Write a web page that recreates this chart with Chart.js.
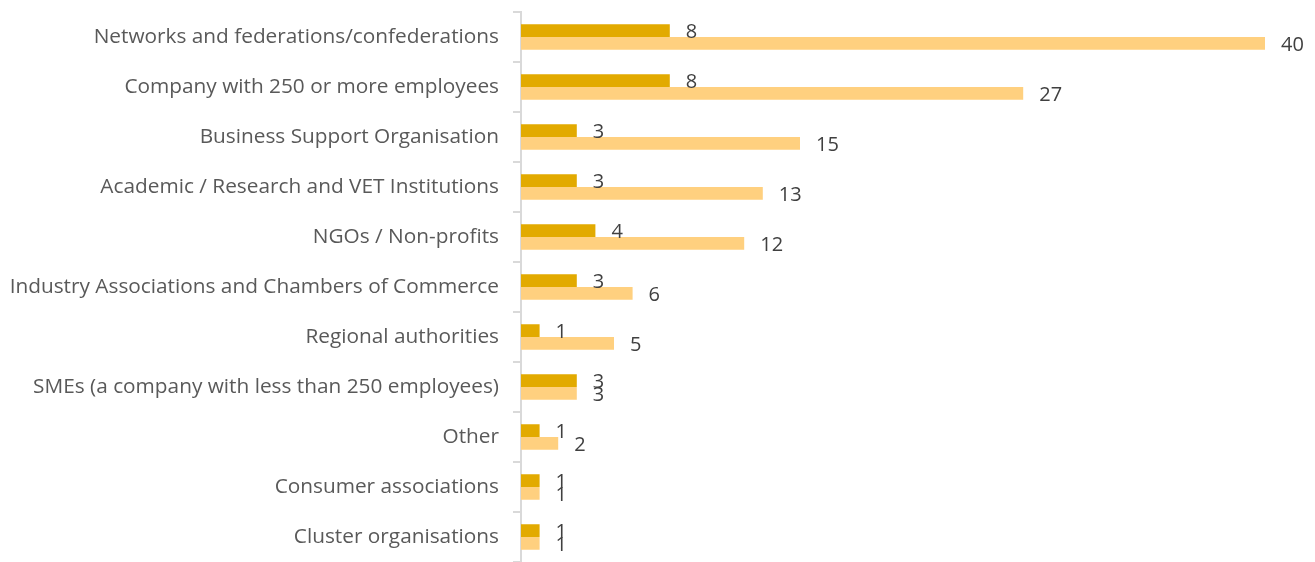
<!DOCTYPE html>
<html>
<head>
<meta charset="utf-8">
<script src="https://cdn.jsdelivr.net/npm/chart.js@4.4.0/dist/chart.umd.min.js"></script>
<style>
  html, body { margin: 0; padding: 0; background: #fff; }
  #wrap { width: 1315px; height: 562px; position: relative; }
</style>
</head>
<body>
<div id="wrap"><canvas id="barChart"></canvas></div>
<script>
// categories, top to bottom
var categories = [
  'Networks and federations/confederations',
  'Company with 250 or more employees',
  'Business Support Organisation',
  'Academic / Research and VET Institutions',
  'NGOs / Non-profits',
  'Industry Associations and Chambers of Commerce',
  'Regional authorities',
  'SMEs (a company with less than 250 employees)',
  'Other',
  'Consumer associations',
  'Cluster organisations'
];
var seriesA = [8, 8, 3, 3, 4, 3, 1, 3, 1, 1, 1];
var seriesB = [40, 27, 15, 13, 12, 6, 5, 3, 2, 1, 1];

// value labels next to each bar end
var valueLabels = {
  id: 'valueLabels',
  afterDatasetsDraw: function (chart) {
    var ctx = chart.ctx;
    ctx.save();
    ctx.font = '20px "Open Sans", sans-serif';
    ctx.fillStyle = '#404040';
    ctx.textAlign = 'left';
    ctx.textBaseline = 'middle';
    chart.data.datasets.forEach(function (ds, i) {
      chart.getDatasetMeta(i).data.forEach(function (bar, j) {
        ctx.fillText(ds.data[j], bar.x + 16, bar.y + 1.5);
      });
    });
    ctx.restore();
  }
};

new Chart(document.getElementById('barChart').getContext('2d'), {
  type: 'bar',
  data: {
    labels: categories,
    datasets: [
      { label: 'A', data: seriesA, backgroundColor: '#E2AA00', categoryPercentage: 0.51, barPercentage: 1 },
      { label: 'B', data: seriesB, backgroundColor: '#FFD07F', categoryPercentage: 0.51, barPercentage: 1 }
    ]
  },
  options: {
    indexAxis: 'y',
    responsive: true,
    maintainAspectRatio: false,
    animation: false,
    layout: { padding: { top: 12, right: 50, bottom: 0, left: 0 } },
    plugins: { legend: { display: false }, tooltip: { enabled: false } },
    scales: {
      x: { display: false, min: 0, max: 40 },
      y: {
        afterFit: function (scale) {
          scale.width = 521;
          scale.paddingTop = 0;
          scale.paddingBottom = 0;
        },
        grid: { drawOnChartArea: false, tickLength: 8, color: '#D9D9D9', lineWidth: 2 },
        border: { color: '#D9D9D9', width: 2 },
        ticks: { color: '#595959', padding: 14, font: { family: 'Open Sans', size: 20.8 } }
      }
    }
  },
  plugins: [valueLabels]
});
</script>
</body>
</html>
